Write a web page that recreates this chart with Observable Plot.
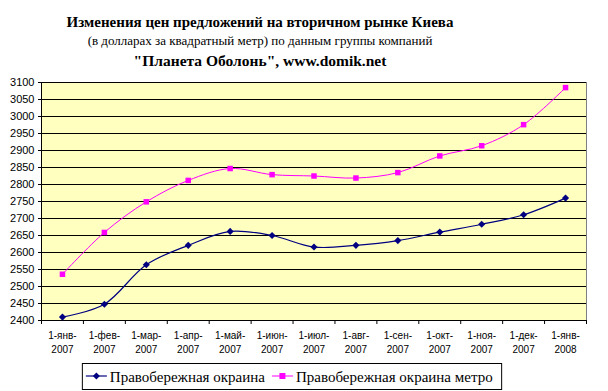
<!DOCTYPE html>
<html><head><meta charset="utf-8">
<script src="https://cdn.jsdelivr.net/npm/d3@7"></script>
<script src="https://cdn.jsdelivr.net/npm/@observablehq/plot@0.6"></script>
<style>
body{margin:0;background:#fff;width:608px;height:391px;overflow:hidden;position:relative;}
#head{position:absolute;left:0;top:0;}
#chart{position:absolute;left:0;top:75px;}
#legend{position:absolute;left:0;top:355px;}
html body svg text.serif{font-family:"Liberation Serif","Times New Roman",serif !important;}
</style></head>
<body>
<div id="head"></div>
<div id="chart"></div>
<div id="legend"></div>
<script>
const titleLines = ["Изменения цен предложений на вторичном рынке Киева","(в долларах за квадратный метр) по данным группы компаний","\"Планета Оболонь\", www.domik.net"];
const months = ["1-янв-\n2007","1-фев-\n2007","1-мар-\n2007","1-апр-\n2007","1-май-\n2007","1-июн-\n2007","1-июл-\n2007","1-авг-\n2007","1-сен-\n2007","1-окт-\n2007","1-ноя-\n2007","1-дек-\n2007","1-янв-\n2008"];
const seriesNames = ["Правобережная окраина","Правобережная окраина метро"];
const okraina = [2410,2448,2564,2621,2662,2650,2616,2621,2635,2660,2683,2711,2760];
const metro = [2536,2659,2749,2812,2847,2829,2825,2819,2835,2884,2914,2976,3085];
const yTicks = d3.range(2400,3101,50);
const colors = ["#000080","#FF00FF"];

const SERIF = "'Liberation Serif', 'Times New Roman', serif";
function serif(sel){ sel.attr("class","serif").attr("font-family","Liberation Serif"); sel.node().style.setProperty("font-family",SERIF,"important"); return sel; }
// title
const hs = d3.select("#head").append("svg").attr("width",608).attr("height",75);
const tStyles = [{y:27,size:15,w:"bold"},{y:45,size:13,w:"normal"},{y:66,size:15.5,w:"bold"}];
titleLines.forEach((t,k)=>{
  serif(hs.append("text")).attr("x",260).attr("y",tStyles[k].y).attr("text-anchor","middle")
    .attr("font-size",tStyles[k].size).attr("font-weight",tStyles[k].w).text(t);
});

const d1 = okraina.map((v,i)=>({i,v}));
const d2 = metro.map((v,i)=>({i,v}));
const bounds = d3.range(-0.5,13,1);

const plot = Plot.plot({
  width:608, height:280,
  marginLeft:41, marginRight:22, marginTop:7, marginBottom:35,
  style:{fontFamily:"Liberation Sans, Arial, sans-serif",fontSize:"10px",background:"transparent",overflow:"visible"},
  x:{type:"linear",domain:[-0.5,12.5]},
  y:{type:"linear",domain:[2400,3100]},
  marks:[
    Plot.frame({fill:"#FFFFC0",stroke:"#808080"}),
    Plot.ruleY(yTicks,{stroke:"#000",strokeWidth:1}),
    Plot.ruleX([-0.5],{stroke:"#000"}),
    Plot.axisX({ticks:bounds,tickSize:4,tickFormat:()=>"",label:null,stroke:"#000"}),
    Plot.axisY({ticks:yTicks,tickSize:3,tickPadding:4,tickFormat:"d",fontSize:11,label:null,stroke:"#000"}),
    Plot.axisX({ticks:d3.range(13),tickSize:0,tickPadding:8,tickFormat:i=>months[i],fontSize:10,label:null,lineHeight:1.45}),
    Plot.line(d1,{x:"i",y:"v",stroke:colors[0],strokeWidth:1.2,curve:"catmull-rom"}),
    Plot.line(d2,{x:"i",y:"v",stroke:colors[1],strokeWidth:1,curve:"catmull-rom"}),
    Plot.dot(d1,{x:"i",y:"v",symbol:"diamond2",fill:colors[0],r:3.2}),
    Plot.dot(d2,{x:"i",y:"v",symbol:"square2",fill:colors[1],r:3.5})
  ]
});
document.getElementById("chart").appendChild(plot);

// legend
const ls = d3.select("#legend").append("svg").attr("width",608).attr("height",36);
const box = ls.append("rect").attr("y",8.5).attr("height",26).attr("fill","#fff").attr("stroke","#000");
let x = 82;
seriesNames.forEach((n,k)=>{
  const g = ls.append("g").attr("transform",`translate(${x},21)`);
  g.append("line").attr("x1",0).attr("x2",21).attr("stroke",colors[k]).attr("stroke-width",k?1:1.2);
  if(k===0) g.append("path").attr("d","M10.5,-3.5L14,0L10.5,3.5L7,0Z").attr("fill",colors[0]);
  else g.append("rect").attr("x",7.5).attr("y",-3).attr("width",6).attr("height",6).attr("fill",colors[1]);
  const t = serif(g.append("text")).attr("x",24).attr("y",5.5).attr("font-size",15).text(n);
  const w = t.node().getComputedTextLength();
  x = x + 24 + w + 7;
});
const left = 78.5, right = x + 2;
const shift = (292 - (left + right)/2);
box.attr("x",left+shift).attr("width",right-left);
ls.selectAll("g").each(function(){ const tr=this.getAttribute("transform"); const m=/translate\(([-\d.]+),/.exec(tr); this.setAttribute("transform",`translate(${+m[1]+shift},21)`); });
</script>
</body></html>
